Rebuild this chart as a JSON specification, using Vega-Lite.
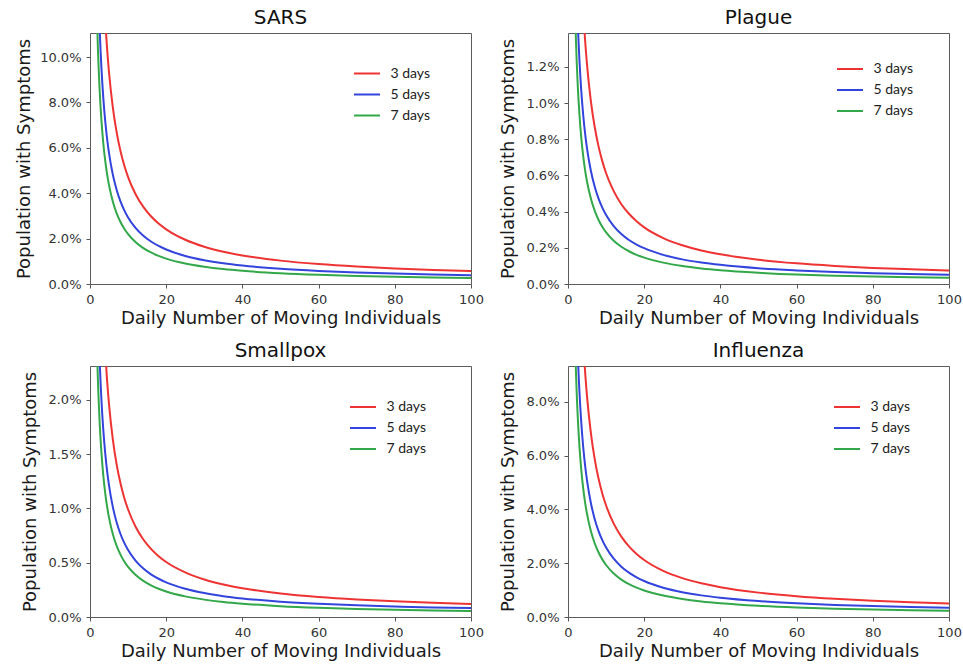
{
  "$schema": "https://vega.github.io/schema/vega-lite/v6.json",
  "padding": {"left": 14, "top": 7, "right": 0, "bottom": 0},
  "background": "white",
  "datasets": {
    "curves": [
      {"disease":"SARS","x":1.5,"3 days":30.78,"5 days":18.94,"7 days":14.38},
      {"disease":"SARS","x":2,"3 days":23.11,"5 days":14.23,"7 days":10.795},
      {"disease":"SARS","x":2.5,"3 days":18.51,"5 days":11.407,"7 days":8.645},
      {"disease":"SARS","x":3,"3 days":15.443,"5 days":9.524,"7 days":7.212},
      {"disease":"SARS","x":3.5,"3 days":13.253,"5 days":8.179,"7 days":6.188},
      {"disease":"SARS","x":4,"3 days":11.61,"5 days":7.17,"7 days":5.42},
      {"disease":"SARS","x":4.5,"3 days":10.332,"5 days":6.385,"7 days":4.823},
      {"disease":"SARS","x":5,"3 days":9.31,"5 days":5.757,"7 days":4.345},
      {"disease":"SARS","x":6,"3 days":7.777,"5 days":4.815,"7 days":3.628},
      {"disease":"SARS","x":7,"3 days":6.681,"5 days":4.143,"7 days":3.116},
      {"disease":"SARS","x":8,"3 days":5.86,"5 days":3.638,"7 days":2.733},
      {"disease":"SARS","x":9,"3 days":5.221,"5 days":3.246,"7 days":2.434},
      {"disease":"SARS","x":10,"3 days":4.71,"5 days":2.932,"7 days":2.195},
      {"disease":"SARS","x":12,"3 days":3.943,"5 days":2.461,"7 days":1.837},
      {"disease":"SARS","x":14,"3 days":3.396,"5 days":2.125,"7 days":1.581},
      {"disease":"SARS","x":16,"3 days":2.985,"5 days":1.873,"7 days":1.389},
      {"disease":"SARS","x":18,"3 days":2.666,"5 days":1.676,"7 days":1.239},
      {"disease":"SARS","x":20,"3 days":2.41,"5 days":1.52,"7 days":1.12},
      {"disease":"SARS","x":25,"3 days":1.95,"5 days":1.237,"7 days":0.905},
      {"disease":"SARS","x":30,"3 days":1.643,"5 days":1.049,"7 days":0.762},
      {"disease":"SARS","x":35,"3 days":1.424,"5 days":0.914,"7 days":0.659},
      {"disease":"SARS","x":40,"3 days":1.26,"5 days":0.813,"7 days":0.583},
      {"disease":"SARS","x":50,"3 days":1.03,"5 days":0.672,"7 days":0.475},
      {"disease":"SARS","x":60,"3 days":0.877,"5 days":0.578,"7 days":0.403},
      {"disease":"SARS","x":70,"3 days":0.767,"5 days":0.511,"7 days":0.352},
      {"disease":"SARS","x":80,"3 days":0.685,"5 days":0.46,"7 days":0.314},
      {"disease":"SARS","x":90,"3 days":0.621,"5 days":0.421,"7 days":0.284},
      {"disease":"SARS","x":100,"3 days":0.57,"5 days":0.39,"7 days":0.26},
      {"disease":"Plague","x":1.5,"3 days":4.001,"5 days":2.462,"7 days":1.869},
      {"disease":"Plague","x":2,"3 days":3.004,"5 days":1.85,"7 days":1.403},
      {"disease":"Plague","x":2.5,"3 days":2.406,"5 days":1.483,"7 days":1.124},
      {"disease":"Plague","x":3,"3 days":2.008,"5 days":1.238,"7 days":0.938},
      {"disease":"Plague","x":3.5,"3 days":1.723,"5 days":1.063,"7 days":0.804},
      {"disease":"Plague","x":4,"3 days":1.509,"5 days":0.932,"7 days":0.705},
      {"disease":"Plague","x":4.5,"3 days":1.343,"5 days":0.83,"7 days":0.627},
      {"disease":"Plague","x":5,"3 days":1.21,"5 days":0.748,"7 days":0.565},
      {"disease":"Plague","x":6,"3 days":1.011,"5 days":0.626,"7 days":0.472},
      {"disease":"Plague","x":7,"3 days":0.869,"5 days":0.539,"7 days":0.405},
      {"disease":"Plague","x":8,"3 days":0.762,"5 days":0.473,"7 days":0.355},
      {"disease":"Plague","x":9,"3 days":0.679,"5 days":0.422,"7 days":0.316},
      {"disease":"Plague","x":10,"3 days":0.612,"5 days":0.381,"7 days":0.285},
      {"disease":"Plague","x":12,"3 days":0.513,"5 days":0.32,"7 days":0.239},
      {"disease":"Plague","x":14,"3 days":0.441,"5 days":0.276,"7 days":0.206},
      {"disease":"Plague","x":16,"3 days":0.388,"5 days":0.243,"7 days":0.181},
      {"disease":"Plague","x":18,"3 days":0.347,"5 days":0.218,"7 days":0.161},
      {"disease":"Plague","x":20,"3 days":0.313,"5 days":0.198,"7 days":0.146},
      {"disease":"Plague","x":25,"3 days":0.254,"5 days":0.161,"7 days":0.118},
      {"disease":"Plague","x":30,"3 days":0.214,"5 days":0.136,"7 days":0.099},
      {"disease":"Plague","x":35,"3 days":0.185,"5 days":0.119,"7 days":0.086},
      {"disease":"Plague","x":40,"3 days":0.164,"5 days":0.106,"7 days":0.076},
      {"disease":"Plague","x":50,"3 days":0.134,"5 days":0.087,"7 days":0.062},
      {"disease":"Plague","x":60,"3 days":0.114,"5 days":0.075,"7 days":0.052},
      {"disease":"Plague","x":70,"3 days":0.1,"5 days":0.066,"7 days":0.046},
      {"disease":"Plague","x":80,"3 days":0.089,"5 days":0.06,"7 days":0.041},
      {"disease":"Plague","x":90,"3 days":0.081,"5 days":0.055,"7 days":0.037},
      {"disease":"Plague","x":100,"3 days":0.074,"5 days":0.051,"7 days":0.034},
      {"disease":"Smallpox","x":1.5,"3 days":6.464,"5 days":3.977,"7 days":3.02},
      {"disease":"Smallpox","x":2,"3 days":4.853,"5 days":2.988,"7 days":2.267},
      {"disease":"Smallpox","x":2.5,"3 days":3.887,"5 days":2.395,"7 days":1.815},
      {"disease":"Smallpox","x":3,"3 days":3.243,"5 days":2.0,"7 days":1.515},
      {"disease":"Smallpox","x":3.5,"3 days":2.783,"5 days":1.718,"7 days":1.299},
      {"disease":"Smallpox","x":4,"3 days":2.438,"5 days":1.506,"7 days":1.138},
      {"disease":"Smallpox","x":4.5,"3 days":2.17,"5 days":1.341,"7 days":1.013},
      {"disease":"Smallpox","x":5,"3 days":1.955,"5 days":1.209,"7 days":0.912},
      {"disease":"Smallpox","x":6,"3 days":1.633,"5 days":1.011,"7 days":0.762},
      {"disease":"Smallpox","x":7,"3 days":1.403,"5 days":0.87,"7 days":0.654},
      {"disease":"Smallpox","x":8,"3 days":1.231,"5 days":0.764,"7 days":0.574},
      {"disease":"Smallpox","x":9,"3 days":1.096,"5 days":0.682,"7 days":0.511},
      {"disease":"Smallpox","x":10,"3 days":0.989,"5 days":0.616,"7 days":0.461},
      {"disease":"Smallpox","x":12,"3 days":0.828,"5 days":0.517,"7 days":0.386},
      {"disease":"Smallpox","x":14,"3 days":0.713,"5 days":0.446,"7 days":0.332},
      {"disease":"Smallpox","x":16,"3 days":0.627,"5 days":0.393,"7 days":0.292},
      {"disease":"Smallpox","x":18,"3 days":0.56,"5 days":0.352,"7 days":0.26},
      {"disease":"Smallpox","x":20,"3 days":0.506,"5 days":0.319,"7 days":0.235},
      {"disease":"Smallpox","x":25,"3 days":0.41,"5 days":0.26,"7 days":0.19},
      {"disease":"Smallpox","x":30,"3 days":0.345,"5 days":0.22,"7 days":0.16},
      {"disease":"Smallpox","x":35,"3 days":0.299,"5 days":0.192,"7 days":0.138},
      {"disease":"Smallpox","x":40,"3 days":0.265,"5 days":0.171,"7 days":0.122},
      {"disease":"Smallpox","x":50,"3 days":0.216,"5 days":0.141,"7 days":0.1},
      {"disease":"Smallpox","x":60,"3 days":0.184,"5 days":0.121,"7 days":0.085},
      {"disease":"Smallpox","x":70,"3 days":0.161,"5 days":0.107,"7 days":0.074},
      {"disease":"Smallpox","x":80,"3 days":0.144,"5 days":0.097,"7 days":0.066},
      {"disease":"Smallpox","x":90,"3 days":0.13,"5 days":0.088,"7 days":0.06},
      {"disease":"Smallpox","x":100,"3 days":0.12,"5 days":0.082,"7 days":0.055},
      {"disease":"Influenza","x":1.5,"3 days":27.09,"5 days":16.67,"7 days":12.65},
      {"disease":"Influenza","x":2,"3 days":20.34,"5 days":12.52,"7 days":9.5},
      {"disease":"Influenza","x":2.5,"3 days":16.29,"5 days":10.04,"7 days":7.608},
      {"disease":"Influenza","x":3,"3 days":13.59,"5 days":8.381,"7 days":6.347},
      {"disease":"Influenza","x":3.5,"3 days":11.66,"5 days":7.198,"7 days":5.445},
      {"disease":"Influenza","x":4,"3 days":10.22,"5 days":6.31,"7 days":4.77},
      {"disease":"Influenza","x":4.5,"3 days":9.092,"5 days":5.619,"7 days":4.244},
      {"disease":"Influenza","x":5,"3 days":8.193,"5 days":5.066,"7 days":3.824},
      {"disease":"Influenza","x":6,"3 days":6.844,"5 days":4.237,"7 days":3.193},
      {"disease":"Influenza","x":7,"3 days":5.879,"5 days":3.646,"7 days":2.742},
      {"disease":"Influenza","x":8,"3 days":5.157,"5 days":3.201,"7 days":2.405},
      {"disease":"Influenza","x":9,"3 days":4.594,"5 days":2.856,"7 days":2.142},
      {"disease":"Influenza","x":10,"3 days":4.145,"5 days":2.58,"7 days":1.932},
      {"disease":"Influenza","x":12,"3 days":3.47,"5 days":2.166,"7 days":1.617},
      {"disease":"Influenza","x":14,"3 days":2.988,"5 days":1.87,"7 days":1.391},
      {"disease":"Influenza","x":16,"3 days":2.627,"5 days":1.648,"7 days":1.222},
      {"disease":"Influenza","x":18,"3 days":2.346,"5 days":1.475,"7 days":1.09},
      {"disease":"Influenza","x":20,"3 days":2.121,"5 days":1.338,"7 days":0.986},
      {"disease":"Influenza","x":25,"3 days":1.716,"5 days":1.089,"7 days":0.796},
      {"disease":"Influenza","x":30,"3 days":1.446,"5 days":0.923,"7 days":0.671},
      {"disease":"Influenza","x":35,"3 days":1.253,"5 days":0.804,"7 days":0.58},
      {"disease":"Influenza","x":40,"3 days":1.109,"5 days":0.715,"7 days":0.513},
      {"disease":"Influenza","x":50,"3 days":0.906,"5 days":0.591,"7 days":0.418},
      {"disease":"Influenza","x":60,"3 days":0.772,"5 days":0.509,"7 days":0.355},
      {"disease":"Influenza","x":70,"3 days":0.675,"5 days":0.45,"7 days":0.31},
      {"disease":"Influenza","x":80,"3 days":0.603,"5 days":0.405,"7 days":0.276},
      {"disease":"Influenza","x":90,"3 days":0.546,"5 days":0.37,"7 days":0.25},
      {"disease":"Influenza","x":100,"3 days":0.502,"5 days":0.343,"7 days":0.229}
    ]
  },
  "data": {"name": "curves"},
  "columns": 2,
  "spacing": {"column": 14, "row": 12},
  "concat": [
    {
      "title": "SARS",
      "width": 381,
      "height": 251,
      "transform": [
        {"filter": "datum.disease === 'SARS'"},
        {"fold": ["3 days", "5 days", "7 days"], "as": ["duration", "share"]}
      ],
      "mark": {"type": "line", "clip": true, "strokeWidth": 2, "interpolate": "monotone"},
      "encoding": {
        "x": {"field": "x", "type": "quantitative", "scale": {"domain": [0, 100], "nice": false}, "axis": {"values": [0, 20, 40, 60, 80, 100], "title": "Daily Number of Moving Individuals"}},
        "y": {"field": "share", "type": "quantitative", "scale": {"domain": [0, 11.06], "nice": false}, "axis": {"values": [0, 2, 4, 6, 8, 10], "labelExpr": "format(datum.value, '.1f') + '%'", "title": "Population with Symptoms", "minExtent": 48, "maxExtent": 48}},
        "color": {"field": "duration", "type": "nominal", "scale": {"domain": ["3 days", "5 days", "7 days"], "range": ["#ee3333", "#3344dd", "#33a84a"]}, "legend": {"title": null, "orient": "none", "legendX": 266.5, "legendY": 30}}
      }
    },
    {
      "title": "Plague",
      "width": 381,
      "height": 251,
      "transform": [
        {"filter": "datum.disease === 'Plague'"},
        {"fold": ["3 days", "5 days", "7 days"], "as": ["duration", "share"]}
      ],
      "mark": {"type": "line", "clip": true, "strokeWidth": 2, "interpolate": "monotone"},
      "encoding": {
        "x": {"field": "x", "type": "quantitative", "scale": {"domain": [0, 100], "nice": false}, "axis": {"values": [0, 20, 40, 60, 80, 100], "title": "Daily Number of Moving Individuals"}},
        "y": {"field": "share", "type": "quantitative", "scale": {"domain": [0, 1.387], "nice": false}, "axis": {"values": [0, 0.2, 0.4, 0.6, 0.8, 1.0, 1.2], "labelExpr": "format(datum.value, '.1f') + '%'", "title": "Population with Symptoms"}},
        "color": {"field": "duration", "type": "nominal", "scale": {"domain": ["3 days", "5 days", "7 days"], "range": ["#ee3333", "#3344dd", "#33a84a"]}, "legend": {"title": null, "orient": "none", "legendX": 271.5, "legendY": 25.5}}
      }
    },
    {
      "title": "Smallpox",
      "width": 381,
      "height": 251,
      "transform": [
        {"filter": "datum.disease === 'Smallpox'"},
        {"fold": ["3 days", "5 days", "7 days"], "as": ["duration", "share"]}
      ],
      "mark": {"type": "line", "clip": true, "strokeWidth": 2, "interpolate": "monotone"},
      "encoding": {
        "x": {"field": "x", "type": "quantitative", "scale": {"domain": [0, 100], "nice": false}, "axis": {"values": [0, 20, 40, 60, 80, 100], "title": "Daily Number of Moving Individuals"}},
        "y": {"field": "share", "type": "quantitative", "scale": {"domain": [0, 2.31], "nice": false}, "axis": {"values": [0, 0.5, 1.0, 1.5, 2.0], "labelExpr": "format(datum.value, '.1f') + '%'", "title": "Population with Symptoms"}},
        "color": {"field": "duration", "type": "nominal", "scale": {"domain": ["3 days", "5 days", "7 days"], "range": ["#ee3333", "#3344dd", "#33a84a"]}, "legend": {"title": null, "orient": "none", "legendX": 262.5, "legendY": 30.5}}
      }
    },
    {
      "title": "Influenza",
      "width": 381,
      "height": 251,
      "transform": [
        {"filter": "datum.disease === 'Influenza'"},
        {"fold": ["3 days", "5 days", "7 days"], "as": ["duration", "share"]}
      ],
      "mark": {"type": "line", "clip": true, "strokeWidth": 2, "interpolate": "monotone"},
      "encoding": {
        "x": {"field": "x", "type": "quantitative", "scale": {"domain": [0, 100], "nice": false}, "axis": {"values": [0, 20, 40, 60, 80, 100], "title": "Daily Number of Moving Individuals"}},
        "y": {"field": "share", "type": "quantitative", "scale": {"domain": [0, 9.33], "nice": false}, "axis": {"values": [0, 2, 4, 6, 8], "labelExpr": "format(datum.value, '.1f') + '%'", "title": "Population with Symptoms"}},
        "color": {"field": "duration", "type": "nominal", "scale": {"domain": ["3 days", "5 days", "7 days"], "range": ["#ee3333", "#3344dd", "#33a84a"]}, "legend": {"title": null, "orient": "none", "legendX": 268.5, "legendY": 30.5}}
      }
    }
  ],
  "resolve": {
    "scale": {"x": "independent", "y": "independent", "color": "independent"},
    "legend": {"color": "independent"}
  },
  "config": {
    "view": {"stroke": "#5c5c5c", "strokeWidth": 1},
    "axis": {
      "domain": false,
      "grid": false,
      "ticks": true,
      "tickSize": 4,
      "tickColor": "#555555",
      "labelFont": "DejaVu Sans",
      "labelFontSize": 13,
      "labelColor": "#333333",
      "labelPadding": 5,
      "titleFont": "DejaVu Sans",
      "titleFontSize": 18,
      "titleFontWeight": "normal",
      "titleColor": "#1a1a1a"
    },
    "axisX": {"labelFlush": false, "titlePadding": 3},
    "axisY": {"titlePadding": 9, "minExtent": 42, "maxExtent": 42},
    "title": {"font": "DejaVu Sans", "fontSize": 20, "fontWeight": "normal", "color": "#111111", "baseline": "alphabetic", "offset": 5},
    "legend": {
      "labelFont": "Lato",
      "labelFontSize": 14,
      "labelColor": "#222222",
      "symbolType": "M-1.37,0L1.37,0",
      "symbolSize": 361,
      "symbolStrokeWidth": 2,
      "rowPadding": 3,
      "labelOffset": 13,
      "padding": 0
    }
  }
}
